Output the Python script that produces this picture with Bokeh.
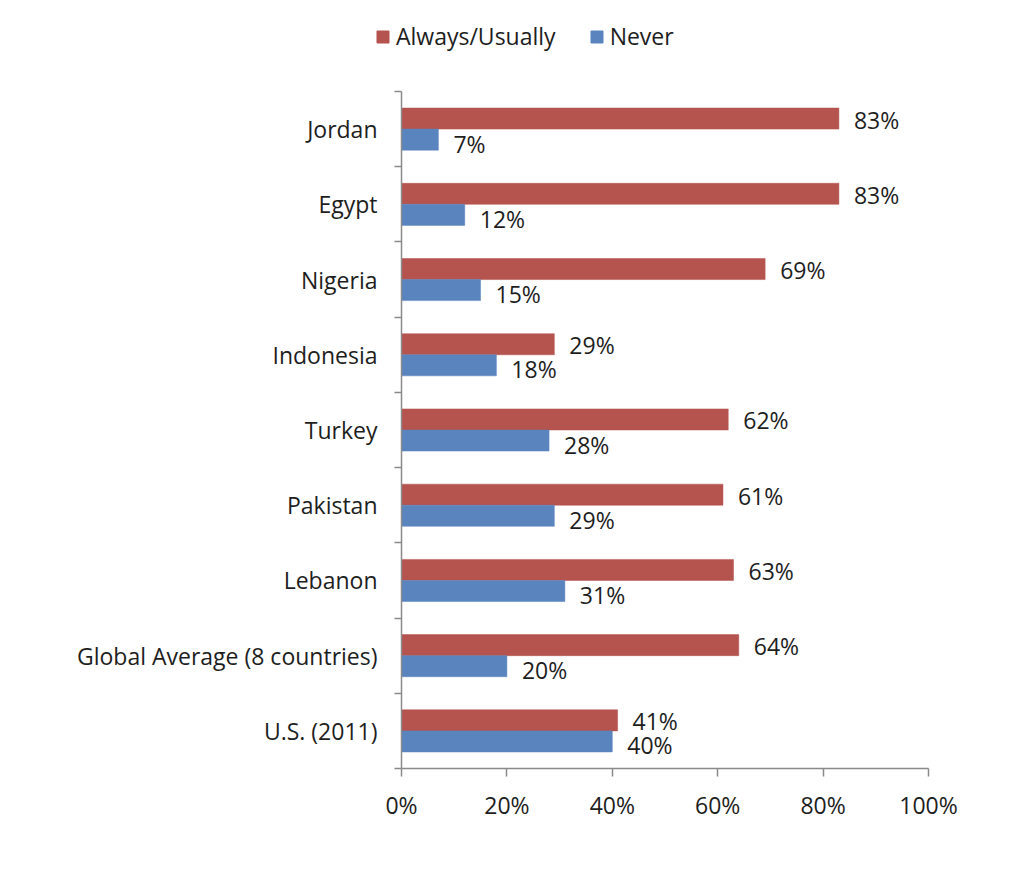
from bokeh.plotting import figure
from bokeh.layouts import column
from bokeh.models import (Range1d, FixedTicker, NumeralTickFormatter, Legend, LegendItem,
                          ColumnDataSource)
from bokeh.core.properties import value
from bokeh.embed import file_html
from bokeh.resources import INLINE

categories = ["Jordan", "Egypt", "Nigeria", "Indonesia", "Turkey", "Pakistan", "Lebanon",
              "Global Average (8 countries)", "U.S. (2011)"]
always_usually = [83, 83, 69, 29, 62, 61, 63, 64, 41]
never = [7, 12, 15, 18, 28, 29, 31, 20, 40]
x_ticks = [0, 20, 40, 60, 80, 100]
series_names = ["Always/Usually", "Never"]

RED = "#B5534F"
BLUE = "#5A84BE"
FONT = "Open Sans"
FS = "23px"
TXT = "#1e1e1e"
AX = "#8a8a8a"

n = len(categories)
centers = [n - i - 0.5 for i in range(n)]
bw = 0.28

src = ColumnDataSource(dict(
    cat=categories,
    yc=centers,
    y_red=[c + bw / 2 for c in centers],
    y_blue=[c - bw / 2 for c in centers],
    au=[v / 100 for v in always_usually],
    nv=[v / 100 for v in never],
    au_lbl=[f"{v}%" for v in always_usually],
    nv_lbl=[f"{v}%" for v in never],
))

# ---------- legend strip (its own small plot so the legend is not clipped) ----------
lg = figure(width=1000, height=60, output_backend="svg", toolbar_location=None,
            x_range=Range1d(0, 1), y_range=Range1d(0, 1),
            x_axis_location=None, y_axis_location=None,
            min_border_left=0, min_border_right=0, min_border_top=0, min_border_bottom=0)
lg.frame_align = False
lg.outline_line_color = None
lg.grid.grid_line_color = None
# proxy renderers for the legend swatches (their data lies outside the visible range)
d_red = lg.hbar(y=[-10], right=[0.1], left=0, height=0.1, fill_color=RED, line_color=RED)
d_blue = lg.hbar(y=[-10], right=[0.1], left=0, height=0.1, fill_color=BLUE, line_color=BLUE)
legend = Legend(items=[LegendItem(label=series_names[0], renderers=[d_red]),
                       LegendItem(label=series_names[1], renderers=[d_blue])],
                orientation="horizontal", location=(375, 8),
                glyph_width=15, glyph_height=15, label_text_font=FONT,
                label_text_font_size=FS, label_text_color=TXT,
                border_line_color=None, background_fill_alpha=0,
                spacing=33, label_standoff=6, padding=0, margin=0)
lg.add_layout(legend, "center")

# ---------- main chart ----------
p = figure(width=1000, height=786, output_backend="svg", toolbar_location=None,
           x_range=Range1d(0, 1), y_range=Range1d(0, n),
           min_border_left=401, min_border_right=72, min_border_top=31, min_border_bottom=78)
p.frame_align = False
p.outline_line_color = None
p.grid.grid_line_color = None

r_red = p.hbar(y="y_red", right="au", left=0, height=bw, source=src,
               fill_color=RED, line_color=RED, line_width=0.5)
r_blue = p.hbar(y="y_blue", right="nv", left=0, height=bw, source=src,
                fill_color=BLUE, line_color=BLUE, line_width=0.5)

p.text(x="au", y="y_red", text="au_lbl", source=src, x_offset=15, y_offset=1,
       text_align="left", text_baseline="middle", text_font=value(FONT),
       text_font_size=FS, text_color=TXT)
p.text(x="nv", y="y_blue", text="nv_lbl", source=src, x_offset=15, y_offset=4,
       text_align="left", text_baseline="middle", text_font=value(FONT),
       text_font_size=FS, text_color=TXT)

xa = p.xaxis[0]
xa.ticker = FixedTicker(ticks=[t / 100 for t in x_ticks])
xa.formatter = NumeralTickFormatter(format="0%")
xa.axis_line_color = AX
xa.axis_line_width = 1.5
xa.major_tick_line_color = AX
xa.major_tick_line_width = 1.5
xa.major_tick_in = 0
xa.major_tick_out = 8
xa.minor_tick_line_color = None
xa.major_label_standoff = 12
xa.major_label_text_font = FONT
xa.major_label_text_font_size = FS
xa.major_label_text_color = TXT

ya = p.yaxis[0]
ya.ticker = FixedTicker(ticks=centers, minor_ticks=list(range(n + 1)))
ya.major_label_overrides = {c: cat for c, cat in zip(centers, categories)}
ya.axis_line_color = AX
ya.axis_line_width = 1.5
ya.major_tick_line_color = None
ya.major_tick_in = 0
ya.major_tick_out = 0
ya.minor_tick_line_color = AX
ya.minor_tick_line_width = 1.5
ya.minor_tick_in = 0
ya.minor_tick_out = 7
ya.major_label_standoff = 17
ya.major_label_text_font = FONT
ya.major_label_text_font_size = FS
ya.major_label_text_color = TXT

layout = column(lg, p, spacing=0)
open("out.html", "w").write(file_html(layout, INLINE))
